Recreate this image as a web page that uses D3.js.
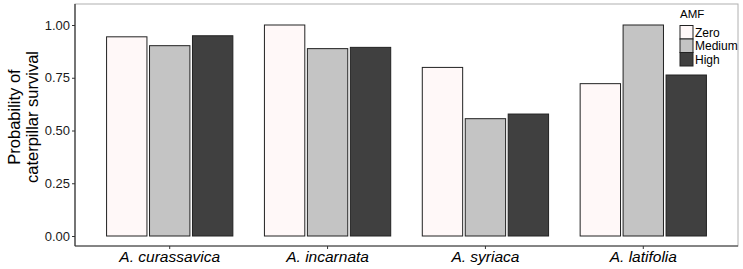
<!DOCTYPE html>
<html>
<head>
<meta charset="utf-8">
<script src="https://cdn.jsdelivr.net/npm/d3@7"></script>
<style>
  body { margin: 0; background: #fff; }
  svg { font-family: "Liberation Sans", Arial, sans-serif; }
</style>
</head>
<body>
<div id="chart"></div>
<script>
const species = ['A. curassavica', 'A. incarnata', 'A. syriaca', 'A. latifolia'];
const amfLevels = ['Zero', 'Medium', 'High'];
const zeroVals = [0.944, 1.0, 0.799, 0.722];
const mediumVals = [0.902, 0.888, 0.556, 1.0];
const highVals = [0.949, 0.894, 0.578, 0.763];
const yTicks = [0, 0.25, 0.5, 0.75, 1.0];

const fills = { Zero: '#fff8f8', Medium: '#c4c4c4', High: '#404040' };
const valuesBy = { Zero: zeroVals, Medium: mediumVals, High: highVals };

const W = 743, H = 269;
const panel = { left: 75, right: 738, top: 4, bottom: 246 };

const svg = d3.select('#chart').append('svg')
    .attr('width', W)
    .attr('height', H);

const x = d3.scaleBand()
    .domain(species)
    .range([panel.left, panel.right])
    .paddingInner(0.2)
    .paddingOuter(0.2);

const xInner = d3.scaleBand()
    .domain(amfLevels)
    .range([0, x.bandwidth()])
    .paddingInner(0.06);

const y = d3.scaleLinear()
    .domain([0, 1])
    .range([236, 25]);

// panel border (top/right light)
svg.append('rect')
    .attr('x', panel.left)
    .attr('y', panel.top)
    .attr('width', panel.right - panel.left)
    .attr('height', panel.bottom - panel.top)
    .attr('fill', 'none')
    .attr('stroke', '#b0b0b0')
    .attr('stroke-width', 1);

// bars
const data = [];
species.forEach((s, i) => {
    amfLevels.forEach(a => data.push({ species: s, amf: a, value: valuesBy[a][i] }));
});

svg.append('g').selectAll('rect')
    .data(data)
    .join('rect')
    .attr('x', d => x(d.species) + xInner(d.amf))
    .attr('y', d => y(d.value))
    .attr('width', xInner.bandwidth())
    .attr('height', d => y(0) - y(d.value))
    .attr('fill', d => fills[d.amf])
    .attr('stroke', '#222')
    .attr('stroke-width', 1);

// axes
const yAxis = svg.append('g')
    .attr('transform', `translate(${panel.left},0)`)
    .call(d3.axisLeft(y).tickValues(yTicks).tickFormat(d3.format('.2f')).tickSize(3).tickSizeOuter(0));
yAxis.select('.domain').remove();
yAxis.append('line')
    .attr('x1', 0).attr('x2', 0)
    .attr('y1', panel.top).attr('y2', panel.bottom)
    .attr('stroke', '#333').attr('stroke-width', 1.2);
yAxis.selectAll('.tick line').attr('stroke', '#333');
yAxis.selectAll('.tick text')
    .attr('x', -5)
    .attr('font-size', 13)
    .attr('fill', '#1a1a1a')
    .attr('font-family', '"Liberation Sans", Arial, sans-serif');

const xAxis = svg.append('g')
    .attr('transform', `translate(0,${panel.bottom})`)
    .call(d3.axisBottom(x).tickSize(3).tickSizeOuter(0));
xAxis.select('.domain').remove();
xAxis.append('line')
    .attr('x1', panel.left).attr('x2', panel.right)
    .attr('y1', 0).attr('y2', 0)
    .attr('stroke', '#333').attr('stroke-width', 1.2);
xAxis.selectAll('.tick line').attr('stroke', '#333');
xAxis.selectAll('.tick text')
    .attr('y', 5)
    .attr('font-size', 15.5)
    .attr('font-style', 'italic')
    .attr('fill', '#000')
    .attr('font-family', '"Liberation Sans", Arial, sans-serif');

// y title
const yTitle = svg.append('text')
    .attr('transform', 'translate(22,117) rotate(-90)')
    .attr('text-anchor', 'middle')
    .attr('font-size', 16.5)
    .attr('fill', '#000');
yTitle.append('tspan').attr('x', 0).attr('dy', '-0.1em').text('Probability of');
yTitle.append('tspan').attr('x', 0).attr('dy', '1.05em').text('caterpillar survival');

// legend
const legend = svg.append('g').attr('transform', 'translate(680,8)');
legend.append('text')
    .attr('x', 0).attr('y', 10)
    .attr('font-size', 11.5)
    .attr('fill', '#000')
    .text('AMF');
const keys = legend.selectAll('g.key')
    .data(amfLevels)
    .join('g')
    .attr('class', 'key')
    .attr('transform', (d, i) => `translate(0,${17.5 + i * 13.5})`);
keys.append('rect')
    .attr('width', 13).attr('height', 13.5)
    .attr('fill', d => fills[d])
    .attr('stroke', '#222')
    .attr('stroke-width', 1);
keys.append('text')
    .attr('x', 15).attr('y', 11)
    .attr('font-size', 12)
    .attr('fill', '#000')
    .text(d => d);
</script>
</body>
</html>
